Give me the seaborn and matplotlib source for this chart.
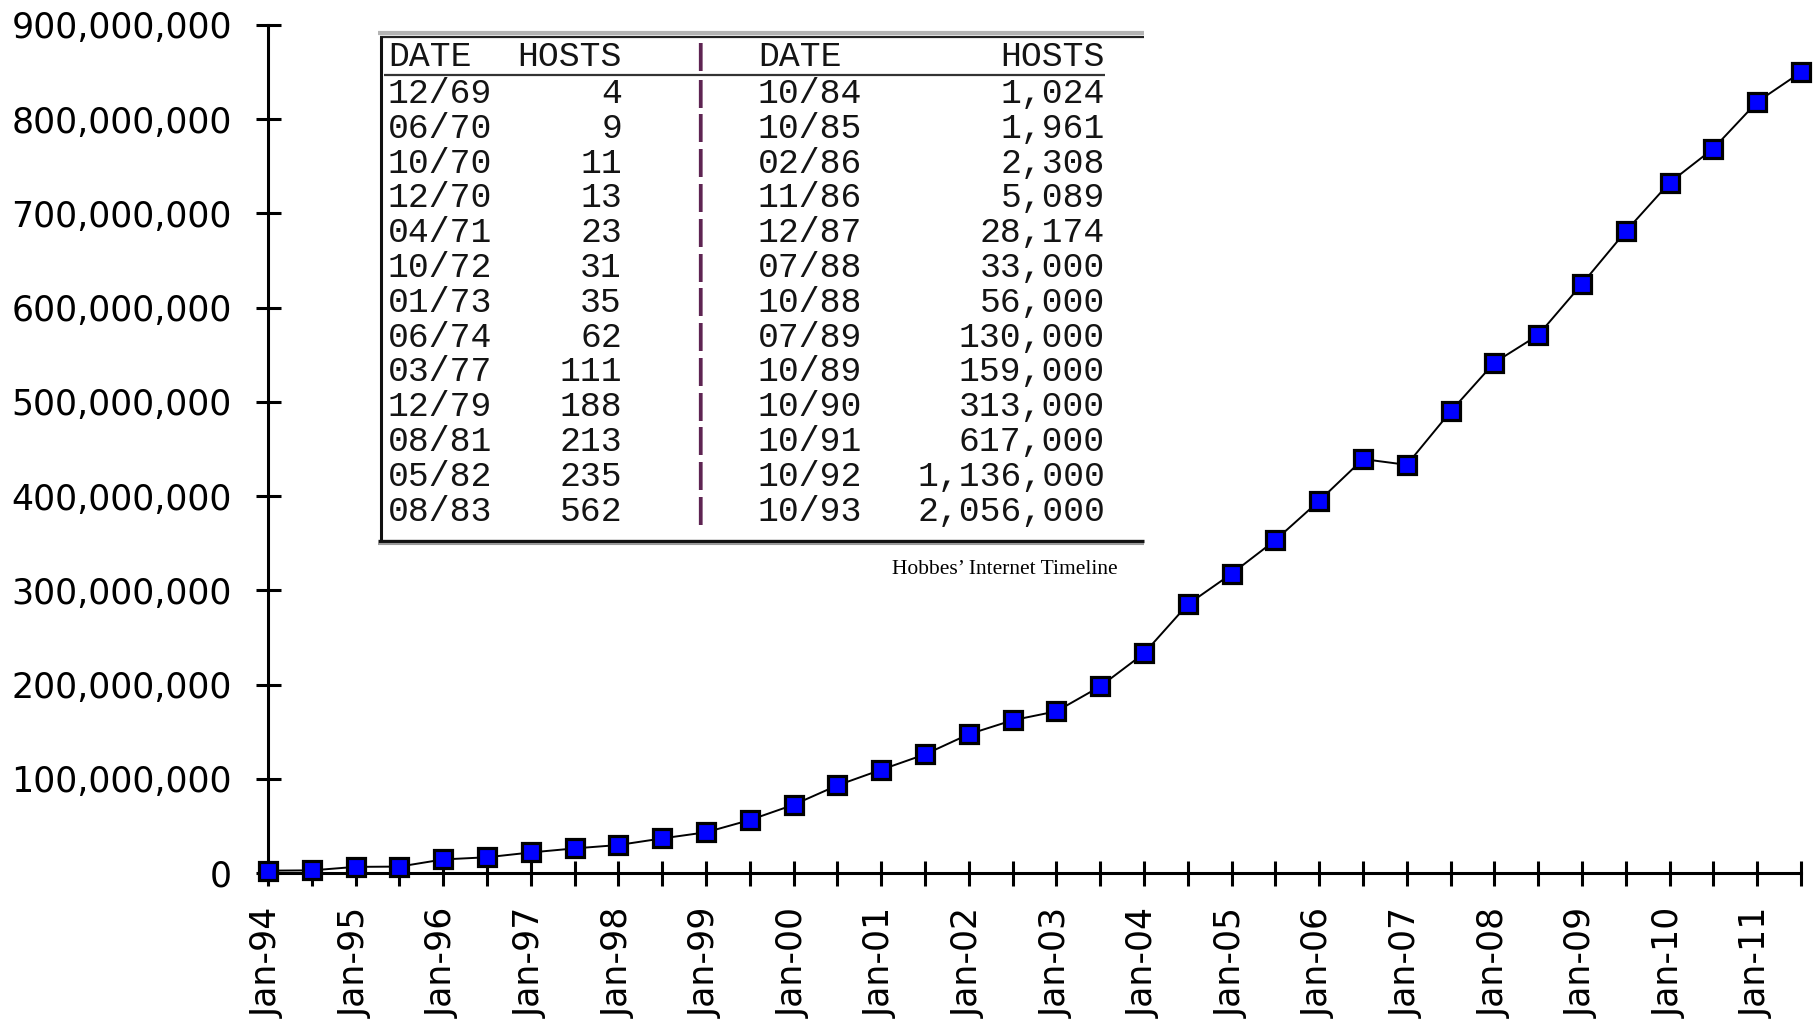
import seaborn as sns
import matplotlib.pyplot as plt
import matplotlib.font_manager as fm
from matplotlib.lines import Line2D
import pandas as pd

# half-yearly host counts, Jan-94 .. Jul-11
dates = [
    "Jan-94", "Jul-94", "Jan-95", "Jul-95", "Jan-96", "Jul-96",
    "Jan-97", "Jul-97", "Jan-98", "Jul-98", "Jan-99", "Jul-99",
    "Jan-00", "Jul-00", "Jan-01", "Jul-01", "Jan-02", "Jul-02",
    "Jan-03", "Jul-03", "Jan-04", "Jul-04", "Jan-05", "Jul-05",
    "Jan-06", "Jul-06", "Jan-07", "Jul-07", "Jan-08", "Jul-08",
    "Jan-09", "Jul-09", "Jan-10", "Jul-10", "Jan-11", "Jul-11",
]
hosts = [
    2500000, 2800000, 6500000, 6800000, 14400000, 16700000,
    21800000, 26100000, 29700000, 36700000, 43200000, 56200000,
    72400000, 93000000, 109600000, 125900000, 147300000, 162100000,
    171600000, 198000000, 233100000, 285100000, 317600000, 353300000,
    395000000, 439300000, 433200000, 489800000, 541700000, 570900000,
    625200000, 681100000, 732700000, 768900000, 818400000, 849900000,
]
yticks = list(range(0, 900000001, 100000000))

# inset table (Hobbes' Internet Timeline)
left_dates = ["12/69", "06/70", "10/70", "12/70", "04/71", "10/72", "01/73",
              "06/74", "03/77", "12/79", "08/81", "05/82", "08/83"]
left_hosts = ["4", "9", "11", "13", "23", "31", "35",
              "62", "111", "188", "213", "235", "562"]
right_dates = ["10/84", "10/85", "02/86", "11/86", "12/87", "07/88", "10/88",
               "07/89", "10/89", "10/90", "10/91", "10/92", "10/93"]
right_hosts = ["1,024", "1,961", "2,308", "5,089", "28,174", "33,000", "56,000",
               "130,000", "159,000", "313,000", "617,000", "1,136,000", "2,056,000"]

sns.set_theme(style="ticks")
names = {f.name for f in fm.fontManager.ttflist}
if "Liberation Sans Narrow" in names:
    label_font, label_size = "Liberation Sans Narrow", 31
else:
    label_font, label_size = "DejaVu Sans", 25
plt.rcParams["font.family"] = [label_font, "DejaVu Sans"]

W, H = 1816, 1031
fig = plt.figure(figsize=(W / 100, H / 100), dpi=100)
ax = fig.add_axes([268 / W, 1 - 873 / H, (1801 - 268) / W, (873 - 25) / H])

df = pd.DataFrame({"date": dates, "hosts": hosts})
sns.lineplot(data=df, x="date", y="hosts", sort=False, ax=ax,
             color="black", lw=1.4, marker="s", markersize=12.5,
             markerfacecolor="#0000ff", markeredgecolor="black",
             markeredgewidth=2.3, clip_on=False, zorder=5)

ax.set_xlim(0, len(dates) - 1)
ax.set_ylim(0, 900000000)
ax.set_xticks(range(len(dates)))
ax.set_xticklabels([d if d.startswith("Jan") else "" for d in dates],
                   rotation=90, fontsize=label_size)
ax.set_yticks(yticks)
ax.set_yticklabels([f"{v:,}" for v in yticks], fontsize=label_size)
ax.set_xlabel("")
ax.set_ylabel("")
sns.despine(ax=ax)
for s in ("left", "bottom"):
    ax.spines[s].set_linewidth(2.2)
    ax.spines[s].set_color("black")
ax.tick_params(axis="both", direction="inout", length=18, width=2.2,
               color="black", labelcolor="black")
ax.tick_params(axis="y", pad=17)
ax.tick_params(axis="x", pad=16)


def px(x, y):
    return x / W, 1 - y / H


def hline(x0, x1, y, lw, color):
    a, b = px(x0, y)
    c, _ = px(x1, y)
    fig.add_artist(Line2D([a, c], [b, b], lw=lw, color=color,
                          transform=fig.transFigure, solid_capstyle="butt"))


def vline(x, y0, y1, lw, color):
    a, b = px(x, y0)
    _, d = px(x, y1)
    fig.add_artist(Line2D([a, a], [b, d], lw=lw, color=color,
                          transform=fig.transFigure, solid_capstyle="butt"))


# table frame
hline(378, 1144, 33, 3.0, "#b4b4b4")
hline(380, 1144, 36.5, 1.6, "#222222")
vline(380.5, 36, 542, 2.2, "#111111")
hline(378, 1144, 540.5, 2.4, "#111111")
hline(378, 1144, 543.5, 1.5, "#9a9a9a")
hline(384, 1105, 75, 1.6, "#333333")

mono = dict(family=["Liberation Mono", "DejaVu Sans Mono"], fontsize=25,
            color="#141414", va="center")
bar = dict(family=["Liberation Mono", "DejaVu Sans Mono"], fontsize=21,
           color="#5e2452", va="center", ha="center", fontweight="bold")


def table_row(y, d1, h1, d2, h2):
    fig.text(*px(388, y), d1, ha="left", **mono)
    fig.text(*px(622, y), h1, ha="right", **mono)
    fig.text(*px(700, y), "|", **bar)
    fig.text(*px(758, y), d2, ha="left", **mono)
    fig.text(*px(1105, y), h2, ha="right", **mono)


table_row(57, "DATE", "HOSTS", "DATE", "HOSTS")
for i in range(len(left_dates)):
    table_row(93.5 + i * 34.8, left_dates[i], left_hosts[i],
              right_dates[i], right_hosts[i])

fig.text(*px(1118, 570), "Hobbes\u2019 Internet Timeline", ha="right", va="center",
         family=["Liberation Serif", "DejaVu Serif"], fontsize=15.5, color="black")

plt.savefig("out.png", dpi=100)
